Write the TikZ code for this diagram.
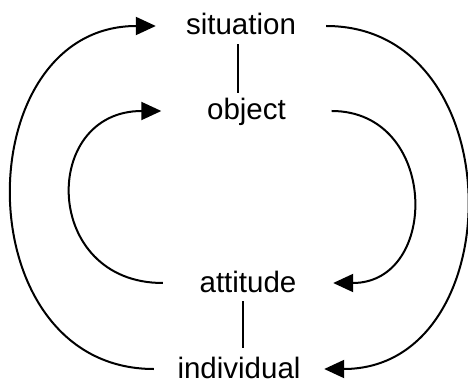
\documentclass[tikz,border=0pt]{standalone}
\usepackage{fontspec}
\setmainfont{Liberation Sans}
\usetikzlibrary{arrows.meta}

\begin{document}
\begin{tikzpicture}[
  x=1pt, y=1pt,
  term/.style={
    inner xsep=0pt, inner ysep=9pt,
    minimum width=170pt,
    text height=18pt, text depth=0pt,
    anchor=base, font=\fontsize{29.5}{32}\selectfont
  },
  link/.style={line width=2pt},
  arr/.style={-{Triangle[length=20pt,width=18pt]}, line width=2pt},
]
\useasboundingbox (0,0) rectangle (468,383);

%% ── Terms (top → bottom) ─────────────────────────────────────────
\node[term] (situation)  at (241,348)   {situation};
\node[term] (object)     at (246.5,263) {object};
\node[term] (attitude)   at (248,91)    {attitude};
\node[term] (individual) at (239,5)     {individual};

%% ── Vertical links ───────────────────────────────────────────────
\draw[link] ([xshift=-3pt]situation.south) -- ([xshift=-3pt]situation.south |- object.north);
\draw[link, shorten >=3pt] ([xshift=-5pt]attitude.south) -- ([xshift=-5pt]attitude.south |- individual.north);

%% ── Left loops (upwards) ─────────────────────────────────────────
\draw[arr] (individual.west) .. controls +(-190,0) and +(-190,0) .. (situation.west);
\draw[arr] (attitude.west)   .. controls +(-121,0) and +(-121,0) .. (object.west);

%% ── Right loops (downwards) ──────────────────────────────────────
\draw[arr] (situation.east) .. controls +(188,0) and +(188,0) .. (individual.east);
\draw[arr] (object.east)    .. controls +(107,0) and +(107,0) .. (attitude.east);

\end{tikzpicture}
\end{document}
